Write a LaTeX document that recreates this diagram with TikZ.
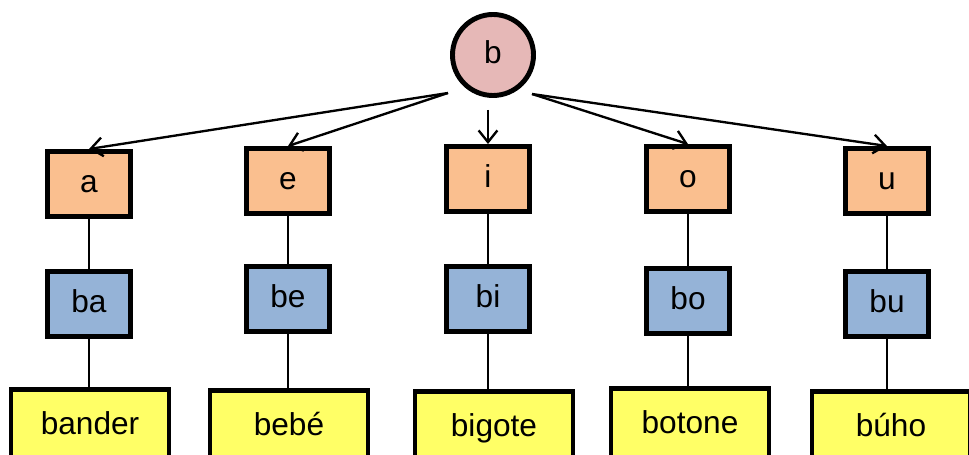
\documentclass[tikz,border=0pt]{standalone}
\usepackage{fontspec}
\setmainfont{Liberation Sans}
\usetikzlibrary{arrows.meta}
\definecolor{rootPink}{RGB}{230,184,183}
\definecolor{vowelOrange}{RGB}{250,191,143}
\definecolor{syllBlue}{RGB}{149,179,215}
\definecolor{wordYellow}{RGB}{255,255,102}
\begin{document}
\begin{tikzpicture}[x=0.03cm, y=-0.03cm,
        every node/.style={font=\fontsize{27}{32}\selectfont, text height=19.5pt, text depth=5.4pt, inner sep=0pt},
        rootNode/.style={circle, draw, line width=4.2pt, fill=rootPink, minimum size=2.43cm},
        vowelBox/.style={rectangle, draw, line width=4.2pt, fill=vowelOrange, minimum width=2.49cm, minimum height=1.95cm},
        syllBox/.style={vowelBox, fill=syllBlue},
        wordBox/.style={rectangle, draw, line width=4.2pt, fill=wordYellow, minimum width=4.74cm, minimum height=2.2cm},
        edgeArrow/.style={line width=2pt, -{Straight Barb[length=10pt, width=16pt, line width=2pt]}},
        edgeLine/.style={line width=2pt}
    ]
        \useasboundingbox (0,0) rectangle (969,455);

        % Root
        \node[rootNode] (b) at (493,55) {b};
        \coordinate (bL) at (448,93);    % left fan start
        \coordinate (bR) at (532,94);    % right fan start
        \coordinate (bS) at (488,110);   % straight down start

        % Columns: vowel / x / y1 / syllable / y2 / word / word x / y3
        \foreach \vow/\x/\ya/\syl/\yb/\word/\wx/\yc in {
            a/89/184/ba/304/bander/90/426,
            e/288/181/be/299/bebé/289/427,
            i/488/179/bi/299/bigote/494/428,
            o/688/179/bo/301/botone/690/425,
            u/887/181/bu/304/búho/891/428}{
            \node[vowelBox] (\vow) at (\x,\ya) {\vow};
            \node[syllBox] (\syl) at (\x,\yb) {\syl};
            \node[wordBox] (w\vow) at (\wx,\yc) {\word};
            \draw[edgeLine] (\vow) -- (\syl);
            \draw[edgeLine] (\syl) -- (\syl|-w\vow.north);
        }

        % Fan of arrows
        \foreach \vow/\from in {a/bL, e/bL, o/bR, u/bR}
            \draw[edgeArrow] (\from) -- (\vow.north);
        \draw[edgeArrow] (bS) -- (i.north);
    \end{tikzpicture}
\end{document}
